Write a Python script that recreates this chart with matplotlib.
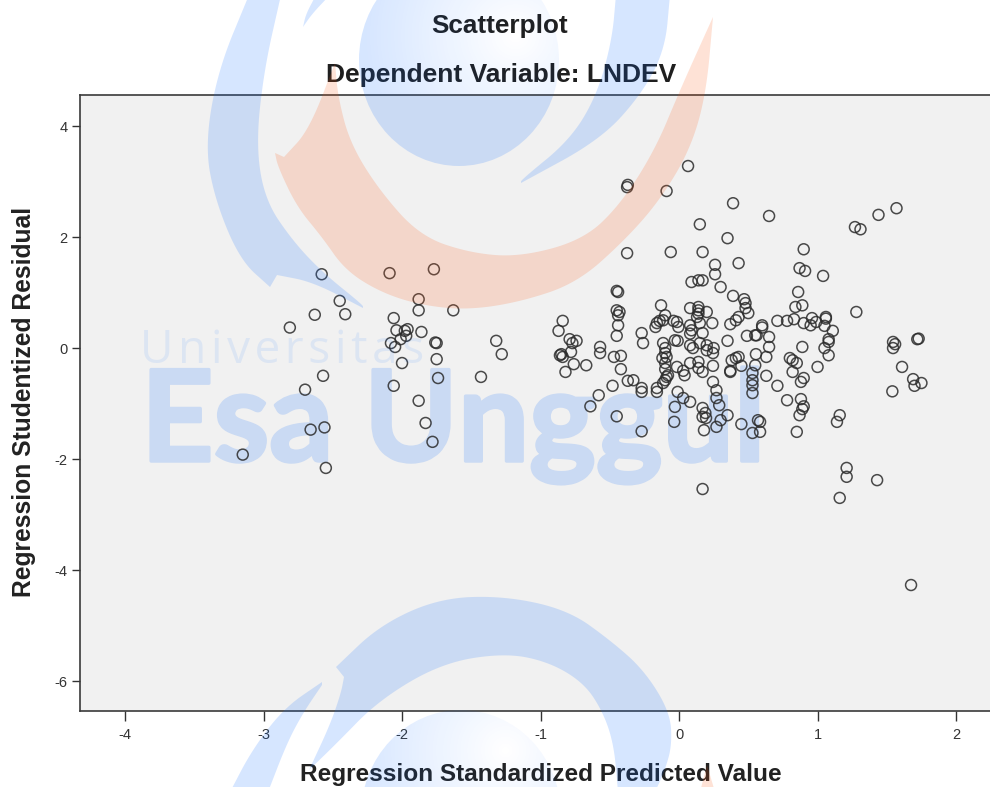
"""Scatterplot of studentized residuals against standardized predicted values."""

import numpy as np
import matplotlib
matplotlib.use("Agg")
import matplotlib.pyplot as plt
import matplotlib.patheffects as pe
from matplotlib.patches import Ellipse, Polygon

# Regression standardized predicted value
pred_x = [
    -3.15, -2.70, -2.66, -2.56, -2.57, -2.55, -2.81, -2.63, -2.58, -2.45, -2.41,
    -2.09, -1.77, -1.88, -1.88, -1.63, -2.06, -2.04, -1.96, -1.98, -1.86, -1.97,
    -2.01, -2.08, -2.05, -1.75, -1.76, -1.75, -2.00, -1.74, -2.06, -1.88, -1.83,
    -1.78, -1.32, -1.28, -1.43, -0.84, -0.87, -0.79, -0.74, -0.77, -0.78, -0.85,
    -0.86, -0.84, -0.76, -0.67, -0.82, -0.57, -0.57, -0.47, -0.42, -0.42, -0.48,
    -0.58, -0.64, -0.45, -0.45, -0.44, -0.45, -0.43, -0.44, -0.44, -0.45, -0.37,
    -0.375, -0.37, -0.375, -0.09, 0.065, 0.15, 0.39, 0.65, -0.06,
    1.27, 1.31, 1.44, 1.57, 0.35, 0.17, 0.26, 0.43, 0.90, 0.87, 0.91, 1.04, 0.26,
    0.09, 0.14, 0.17, 0.30, 0.39, 0.47, 0.48, 0.48, 0.50, 0.43, 0.41, 0.37,
    -0.13, -0.10, -0.14, -0.16, -0.17, -0.115, -0.27, -0.26,
    0.14, 0.14, 0.08, 0.20, 0.14, 0.13, -0.015, -0.04, -0.005, 0.08, 0.09, 0.15,
    0.24, 0.17, 0.08, -0.115, -0.03, -0.01, 0.08, 0.10, 0.15, 0.20, 0.20,
    -0.10, -0.10, -0.12, -0.09, -0.10, -0.10, -0.015, 0.08, 0.14, 0.245, 0.04,
    0.03, 0.14, 0.17, 0.245, -0.09, -0.10, -0.08, -0.115, -0.33, -0.27, -0.16,
    -0.27, -0.16, -0.01, 0.03, 0.08, -0.03, -0.035, -0.27, 0.17, 0.19, 0.17,
    0.195, 0.18, 0.27, 0.30, 0.35, 0.45, 0.53, 0.57, 0.17, 0.27, 0.27, 0.29,
    0.37, 0.53, 0.53, 0.53, 0.53, 0.63, 0.71, 0.585, 0.585,
    0.86, 0.89, 0.84, 1.28, 0.71, 0.78, 0.83, 0.90, 0.96, 0.99, 0.95, 1.06, 1.06,
    1.05, 1.11, 1.08, 1.08, 1.05, 1.08, 0.89, 0.60, 0.60, 0.55, 0.65, 0.65, 0.63,
    0.555, 0.55, 0.80, 0.82, 0.85, 0.82, 1.00, 0.90, 0.88, 0.78, 0.88, 0.90,
    0.89, 0.87, 1.16, 1.14, 0.85, 1.545, 1.545, 1.56, 1.72, 1.73, 1.61, 1.54,
    1.69, 1.70, 1.75, 1.21, 1.21, 1.16, 1.43, 1.675, 0.38, 0.41, 0.43, 0.37,
    0.45, 0.49, 0.56, 0.25, 0.245, 0.35,
]

# Regression studentized residual
stud_y = [
    -1.92, -0.75, -1.47, -1.43, -0.50, -2.16, 0.37, 0.60, 1.33, 0.85, 0.61,
    1.35, 1.42, 0.88, 0.68, 0.68, 0.54, 0.32, 0.34, 0.31, 0.29, 0.22,
    0.16, 0.09, 0.02, 0.09, 0.10, -0.20, -0.27, -0.54, -0.68, -0.95, -1.35,
    -1.69, 0.13, -0.11, -0.52, 0.49, 0.31, 0.16, 0.13, 0.09, -0.07, -0.11,
    -0.13, -0.16, -0.29, -0.31, -0.43, 0.02, -0.09, -0.16, -0.14, -0.38, -0.68,
    -0.85, -1.05, -1.23, 1.03, 1.01, 0.68, 0.65, 0.59, 0.41, 0.22, -0.59,
    1.71, 2.94, 2.90, 2.83, 3.28, 2.23, 2.61, 2.38, 1.73,
    2.18, 2.14, 2.40, 2.52, 1.98, 1.73, 1.50, 1.53, 1.78, 1.44, 1.39, 1.30, 1.33,
    1.19, 1.22, 1.22, 1.10, 0.94, 0.88, 0.81, 0.72, 0.63, 0.56, 0.50, 0.43,
    0.77, 0.59, 0.49, 0.45, 0.38, 0.50, 0.27, 0.09,
    0.74, 0.68, 0.72, 0.65, 0.62, 0.56, 0.47, 0.49, 0.38, 0.41, 0.32, 0.45,
    0.45, 0.27, 0.26, 0.09, 0.14, 0.13, 0.05, 0.00, 0.09, 0.05, -0.04,
    0.00, -0.09, -0.18, -0.16, -0.27, -0.38, -0.34, -0.27, -0.25, -0.32, -0.49,
    -0.41, -0.36, -0.43, -0.61, -0.52, -0.58, -0.49, -0.63, -0.58, -0.72, -0.72,
    -0.79, -0.79, -0.79, -0.90, -0.97, -1.06, -1.33, -1.50, -1.08, -1.17, -1.24,
    -1.26, -1.48, -1.42, -1.30, -1.21, -1.37, -1.53, -1.30, -2.54, -0.76, -0.90,
    -1.03, -0.43, -0.81, -0.67, -0.58, -0.45, -0.50, -0.68, -1.51, -1.33,
    1.01, 0.77, 0.74, 0.65, 0.49, 0.49, 0.52, 0.45, 0.54, 0.47, 0.41, 0.56, 0.53,
    0.40, 0.31, 0.16, 0.11, 0.00, -0.13, 0.02, 0.41, 0.37, 0.23, 0.20, 0.02, -0.16,
    -0.11, -0.31, -0.18, -0.22, -0.27, -0.43, -0.34, -0.54, -0.61, -0.94, -0.92,
    -1.05, -1.10, -1.21, -1.21, -1.33, -1.51, 0.11, 0.00, 0.07, 0.16, 0.17, -0.34,
    -0.78, -0.56, -0.68, -0.63, -2.16, -2.32, -2.70, -2.38, -4.27, -0.22, -0.18,
    -0.16, -0.41, -0.32, 0.22, 0.23, 0.00, -0.09, 0.13,
]

x_ticks = [-4, -3, -2, -1, 0, 1, 2]
y_ticks = [-6, -4, -2, 0, 2, 4]

title_main = "Scatterplot"
title_sub = "Dependent Variable: LNDEV"
x_label = "Regression Standardized Predicted Value"
y_label = "Regression Studentized Residual"

# Watermark tints, blended over both the page and the grey panel
BLUE = (14 / 255, 108 / 255, 1.0)
ORANGE = (253 / 255, 83 / 255, 12 / 255)
TINT = 0.17
PANEL_BLUE = "#cadaf3"

WIDTH, HEIGHT = 990, 787
plt.rcParams["font.family"] = ["Liberation Sans", "DejaVu Sans"]
plt.rcParams["axes.unicode_minus"] = False


def smooth(pts, rounds=4):
    """Corner cutting; a vertex listed twice stays a sharp corner."""
    pts = np.asarray(pts, dtype=float)
    for _ in range(rounds):
        nxt = np.roll(pts, -1, axis=0)
        q = 0.75 * pts + 0.25 * nxt
        r = 0.25 * pts + 0.75 * nxt
        pts = np.column_stack((q, r)).reshape(-1, 2)
    return pts


def gradient_ellipse(ax, center, semi, glow, solid_from=None):
    """Blue ellipse fading to white around the glow point."""
    cx, cy = center
    yy, xx = np.mgrid[0:HEIGHT, 0:WIDTH]
    dist = np.hypot(xx - glow[0], yy - glow[1])
    alpha = TINT * np.clip(dist / 150, 0, 1)
    if solid_from is not None:
        alpha[yy > solid_from] = TINT
    rgba = np.zeros((HEIGHT, WIDTH, 4))
    rgba[..., :3] = BLUE
    rgba[..., 3] = alpha
    im = ax.imshow(rgba, extent=(0, WIDTH, HEIGHT, 0), aspect="auto", zorder=1)
    clip = Ellipse((cx, cy), semi[0] * 2, semi[1] * 2, transform=ax.transData)
    im.set_clip_path(clip)


def draw_watermark(ax):
    """Logo shapes and the small university line laid over the chart."""
    gradient_ellipse(ax, (459, 60), (100, 106), (515, 35), solid_from=95)
    gradient_ellipse(ax, (461, 815), (100, 105), (505, 750))

    blue_shapes = [
        # left arc, top
        [(249, -5), (249, -5), (281, -5), (281, -5), (264, 70), (256, 145), (265, 200),
         (292, 240), (322, 272), (363, 305), (363, 308), (363, 308), (313, 282),
         (277, 275), (277, 275), (270, 287), (270, 287), (240, 260), (215, 200),
         (205, 145), (218, 70)],
        # small spike at the top edge
        [(303, 27), (303, 27), (306, 14), (315, -3), (315, -3), (328, -3), (328, -3),
         (312, 14)],
        # right arc, top
        [(616, -5), (616, -5), (612, 40), (597, 95), (570, 140), (521, 180), (521, 183),
         (521, 183), (600, 140), (641, 95), (665, 50), (670, -5), (670, -5)],
        # bottom arch
        [(336, 667), (336, 667), (380, 625), (440, 598), (505, 596), (568, 610),
         (610, 640), (644, 670), (670, 712), (672, 745), (665, 770), (655, 792),
         (655, 792), (618, 792), (618, 792), (614, 745), (603, 712), (584, 683),
         (549, 662), (505, 653), (442, 663), (379, 700), (335, 745), (309, 770),
         (309, 770), (330, 725), (341, 693), (344, 677), (344, 677)],
        # bottom left spike
        [(322, 682), (322, 682), (284, 708), (252, 750), (230, 792), (230, 792),
         (268, 792), (268, 792), (287, 743), (303, 713), (322, 685), (322, 685)],
    ]
    orange_shapes = [
        [(335, 63), (335, 63), (338, 97), (350, 143), (379, 190), (420, 236), (470, 253),
         (520, 257), (583, 240), (620, 205), (655, 150), (680, 90), (713, 17), (713, 17),
         (706, 95), (690, 150), (660, 200), (625, 240), (577, 283), (520, 302),
         (467, 310), (420, 305), (380, 292), (345, 270), (322, 237), (297, 207),
         (278, 167), (275, 153), (275, 153), (284, 157), (284, 157), (309, 130)],
        [(707, 765), (707, 765), (700, 792), (700, 792), (715, 792), (715, 792)],
    ]
    for pts in blue_shapes:
        ax.add_patch(Polygon(smooth(pts), closed=True, fc=BLUE, ec="none", alpha=TINT))
    for pts in orange_shapes:
        ax.add_patch(Polygon(smooth(pts), closed=True, fc=ORANGE, ec="none", alpha=TINT))

    ax.text(140, 363, "\u200a".join("Universitas"), family=["Open Sans", "DejaVu Sans"],
            fontsize=33, color=BLUE, alpha=0.09, ha="left", va="baseline")

    ax.set_xlim(0, WIDTH)
    ax.set_ylim(HEIGHT, 0)
    ax.axis("off")


def main():
    fig = plt.figure(figsize=(WIDTH / 100, HEIGHT / 100), dpi=100)

    ax = fig.add_axes([80 / WIDTH, 1 - 711 / HEIGHT, 910 / WIDTH, 616 / HEIGHT])
    ax.set_facecolor("#f1f1f1")
    # Big name goes under the points, opaque so the stroke can fatten the letters
    ax.text(141 / WIDTH, 1 - 461 / HEIGHT, "Esa Unggul", transform=fig.transFigure,
            family="Lato", weight="bold", fontsize=91, color=PANEL_BLUE, zorder=0.5,
            ha="left", va="baseline",
            path_effects=[pe.withStroke(linewidth=2.5, foreground=PANEL_BLUE)])
    ax.scatter(pred_x, stud_y, s=62, facecolors="none", edgecolors="#2b2b2b",
               linewidths=1.1, alpha=0.85, clip_on=False, zorder=2)

    ax.set_xlim(-4.325, 2.245)
    ax.set_ylim(-6.54, 4.56)
    ax.set_xticks(x_ticks)
    ax.set_yticks(y_ticks)
    ax.tick_params(axis="x", length=7, width=1, color="#333333", labelsize=10.5,
                   labelcolor="#333333", pad=5)
    ax.tick_params(axis="y", length=6, width=1, color="#333333", labelsize=10.5,
                   labelcolor="#333333", pad=3)
    for side, spine in ax.spines.items():
        spine.set_color("#3a3a3a")
        spine.set_linewidth(1.2)
    ax.spines["right"].set_visible(False)

    fig.text(500 / WIDTH, 1 - 26 / HEIGHT, title_main, fontsize=18.8, weight="bold",
             color="#1f1f1f", ha="center", va="center")
    fig.text(501 / WIDTH, 1 - 75 / HEIGHT, title_sub, fontsize=19, weight="bold",
             color="#1f1f1f", ha="center", va="center")
    fig.text(541 / WIDTH, 1 - 774 / HEIGHT, x_label, fontsize=17.6, weight="bold",
             color="#222222", ha="center", va="center")
    fig.text(24 / WIDTH, 1 - 402 / HEIGHT, y_label, fontsize=17.7, weight="bold",
             color="#222222", ha="center", va="center", rotation=90)

    overlay = fig.add_axes([0, 0, 1, 1], zorder=5)
    overlay.patch.set_visible(False)
    draw_watermark(overlay)

    fig.savefig("out.png", dpi=100)


if __name__ == "__main__":
    main()
